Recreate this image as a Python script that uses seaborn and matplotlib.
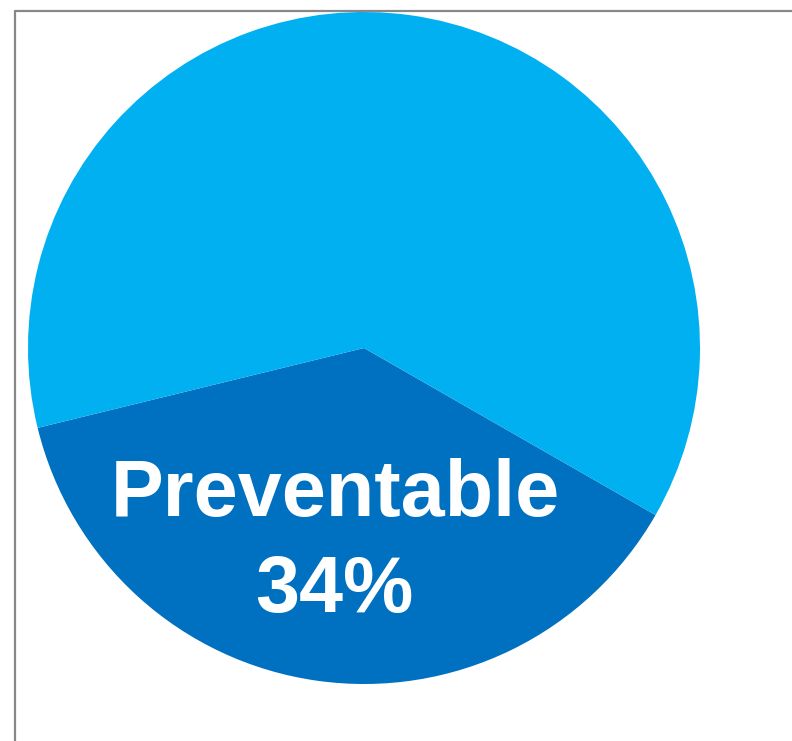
import matplotlib
matplotlib.use("Agg")
import matplotlib.pyplot as plt
from matplotlib.lines import Line2D
import seaborn as sns

sns.set_theme(style="white")
plt.rcParams['font.family'] = ['Liberation Sans', 'DejaVu Sans']

categories = ["Preventable", "Other"]
values = [37.9, 62.1]
colors = ["#0070C0", "#00B0F0"]
label_name = "Preventable"
label_pct = "34%"

W, H = 792, 741
fig = plt.figure(figsize=(W / 100, H / 100), dpi=100)
fig.patch.set_facecolor("white")

ax = fig.add_axes([28 / W, (H - 684) / H, 672 / W, 672 / H])
ax.pie(values, colors=colors, startangle=193.75, counterclock=True,
       wedgeprops=dict(linewidth=0, edgecolor="none"))
ax.set_xlim(-1, 1)
ax.set_ylim(-1, 1)
ax.set_aspect("equal")
ax.axis("off")

# frame lines (left and top)
fig.add_artist(Line2D([14.5 / W, 14.5 / W], [0, 1 - 10.5 / H],
                      transform=fig.transFigure, color="#888888", linewidth=1.6))
fig.add_artist(Line2D([14.5 / W, 1], [1 - 10.5 / H, 1 - 10.5 / H],
                      transform=fig.transFigure, color="#888888", linewidth=1.6))

fig.text(335 / W, 1 - 516 / H, label_name, ha="center", va="baseline",
         color="white", fontsize=57, fontweight="bold")
fig.text(334 / W, 1 - 612 / H, label_pct, ha="center", va="baseline",
         color="white", fontsize=57, fontweight="bold")

fig.savefig("out.png", dpi=100, facecolor="white")
